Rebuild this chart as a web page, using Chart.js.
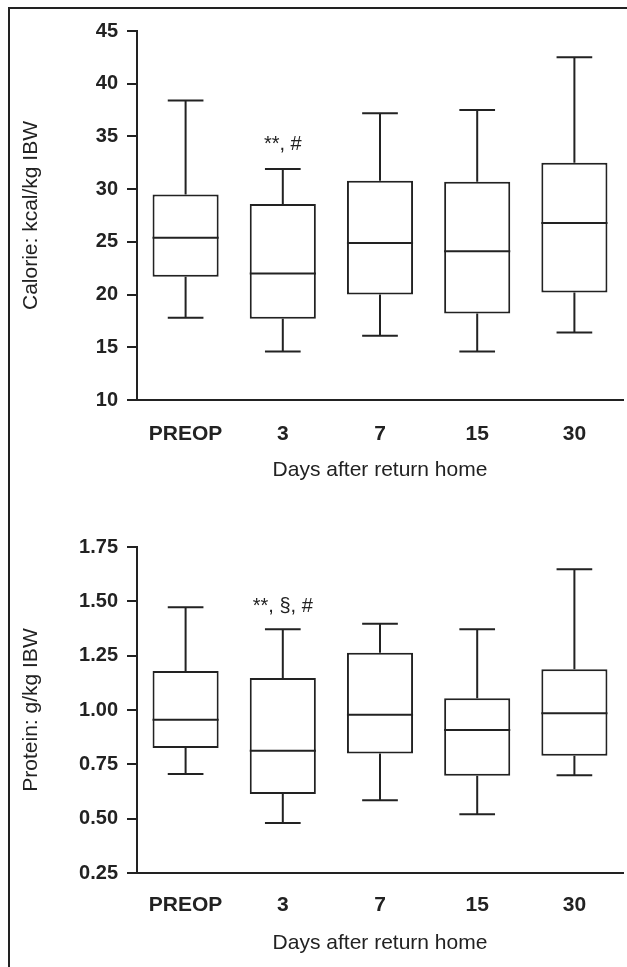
<!DOCTYPE html>
<html>
<head>
<meta charset="utf-8">
<script src="https://cdn.jsdelivr.net/npm/chart.js@4/dist/chart.umd.min.js"></script>
<style>
  body { margin: 0; background: #fff; width: 627px; height: 967px; overflow: hidden; position: relative; }
  #frame { position: absolute; left: 8px; top: 7px; width: 700px; height: 1000px;
           border-left: 2px solid #222; border-top: 2px solid #222; }
  canvas { position: absolute; left: 0; }
  #c1 { top: 0; }
  #c2 { top: 483px; }
</style>
</head>
<body>
<div id="frame"></div>
<canvas id="c1" width="627" height="483"></canvas>
<canvas id="c2" width="627" height="484"></canvas>
<script>
var categories = ['PREOP', '3', '7', '15', '30'];

// calorie intake, kcal/kg IBW
var calMin = [17.8, 14.6, 16.1, 14.6, 16.4];
var calQ1  = [21.7, 17.7, 20.0, 18.2, 20.2];
var calMed = [25.4, 22.0, 24.9, 24.1, 26.8];
var calQ3  = [29.5, 28.6, 30.8, 30.7, 32.5];
var calMax = [38.4, 31.9, 37.2, 37.5, 42.5];
var calTicks = [10, 15, 20, 25, 30, 35, 40, 45];

// protein intake, g/kg IBW
var protMin = [0.705, 0.48, 0.585, 0.52, 0.70];
var protQ1  = [0.825, 0.613, 0.80, 0.697, 0.79];
var protMed = [0.955, 0.813, 0.978, 0.908, 0.985];
var protQ3  = [1.18, 1.147, 1.263, 1.054, 1.188];
var protMax = [1.473, 1.372, 1.397, 1.372, 1.648];
var protTicks = [0.25, 0.50, 0.75, 1.00, 1.25, 1.50, 1.75];

var notes1 = ['', '**, #', '', '', ''];
var notes2 = ['', '**, \u00a7, #', '', '', ''];

var INK = '#222';
Chart.defaults.font.family = "'Liberation Sans', Arial, Helvetica, sans-serif";
Chart.defaults.color = INK;

// whiskers, medians and the significance marks on top of the floating bars
var boxPlugin = {
  id: 'boxes',
  afterDatasetsDraw: function(chart, args, opts) {
    var ctx = chart.ctx;
    var y = chart.scales.y;
    var meta = chart.getDatasetMeta(0);
    ctx.save();
    ctx.strokeStyle = INK;
    ctx.lineWidth = 2;
    meta.data.forEach(function(bar, i) {
      var half = bar.width / 2;
      var cap = bar.width * 0.27;
      var yMin = y.getPixelForValue(opts.min[i]);
      var yMax = y.getPixelForValue(opts.max[i]);
      var yQ1 = y.getPixelForValue(opts.q1[i]);
      var yQ3 = y.getPixelForValue(opts.q3[i]);
      var yMed = y.getPixelForValue(opts.med[i]);
      ctx.beginPath();
      ctx.moveTo(bar.x, yQ3); ctx.lineTo(bar.x, yMax);
      ctx.moveTo(bar.x - cap, yMax); ctx.lineTo(bar.x + cap, yMax);
      ctx.moveTo(bar.x, yQ1); ctx.lineTo(bar.x, yMin);
      ctx.moveTo(bar.x - cap, yMin); ctx.lineTo(bar.x + cap, yMin);
      ctx.moveTo(bar.x - half, yMed); ctx.lineTo(bar.x + half, yMed);
      ctx.stroke();
      if (opts.notes[i]) {
        ctx.fillStyle = INK;
        ctx.font = "20px 'Liberation Sans', Arial, sans-serif";
        ctx.textAlign = 'center';
        ctx.textBaseline = 'alphabetic';
        ctx.fillText(opts.notes[i], bar.x, yMax - opts.noteGap);
      }
    });
    ctx.restore();
  }
};

function makeChart(id, cfg) {
  var bars = categories.map(function(c, i) { return [cfg.q1[i], cfg.q3[i]]; });
  return new Chart(document.getElementById(id), {
    type: 'bar',
    data: {
      labels: categories,
      datasets: [{
        data: bars,
        backgroundColor: '#fff',
        borderColor: INK,
        borderWidth: 2,
        borderSkipped: false,
        barPercentage: 0.68,
        categoryPercentage: 1
      }]
    },
    options: {
      responsive: false,
      animation: false,
      layout: { padding: { top: cfg.padTop, right: 4, left: 0, bottom: 0 } },
      plugins: {
        legend: { display: false },
        tooltip: { enabled: false },
        boxes: { min: cfg.min, q1: cfg.q1, med: cfg.med, q3: cfg.q3, max: cfg.max,
                 notes: cfg.notes, noteGap: cfg.noteGap }
      },
      scales: {
        x: {
          afterFit: function(s) { s.height = cfg.xHeight; },
          grid: { display: false },
          border: { display: true, color: INK, width: 2 },
          ticks: { font: { size: 21, weight: 'bold' }, color: INK, padding: cfg.xTickPad },
          title: { display: true, text: 'Days after return home', color: INK,
                   font: { size: 21 }, padding: { top: 0, bottom: cfg.xTitlePad } }
        },
        y: {
          min: cfg.ticks[0],
          max: cfg.ticks[cfg.ticks.length - 1],
          afterFit: function(s) { s.width = 137; },
          afterBuildTicks: function(s) { s.ticks = cfg.ticks.map(function(v) { return { value: v }; }); },
          grid: { display: true, drawOnChartArea: false, drawTicks: true, tickLength: 10,
                  color: INK, lineWidth: 2 },
          border: { display: true, color: INK, width: 2 },
          ticks: {
            font: { size: 20, weight: 'bold' }, color: INK, padding: 9,
            callback: function(v) { return cfg.decimals ? Number(v).toFixed(2) : v; }
          },
          title: { display: true, text: cfg.yTitle, color: INK,
                   font: { size: 21 }, padding: { top: 19, bottom: 0 } }
        }
      }
    },
    plugins: [boxPlugin]
  });
}

makeChart('c1', {
  min: calMin, q1: calQ1, med: calMed, q3: calQ3, max: calMax,
  ticks: calTicks, decimals: false, notes: notes1, noteGap: 19,
  yTitle: 'Calorie: kcal/kg IBW',
  padTop: 31, xHeight: 83, xTickPad: 14, xTitlePad: 0
});

makeChart('c2', {
  min: protMin, q1: protQ1, med: protMed, q3: protQ3, max: protMax,
  ticks: protTicks, decimals: true, notes: notes2, noteGap: 17,
  yTitle: 'Protein: g/kg IBW',
  padTop: 64, xHeight: 94, xTickPad: 12, xTitlePad: 11
});
</script>
</body>
</html>
